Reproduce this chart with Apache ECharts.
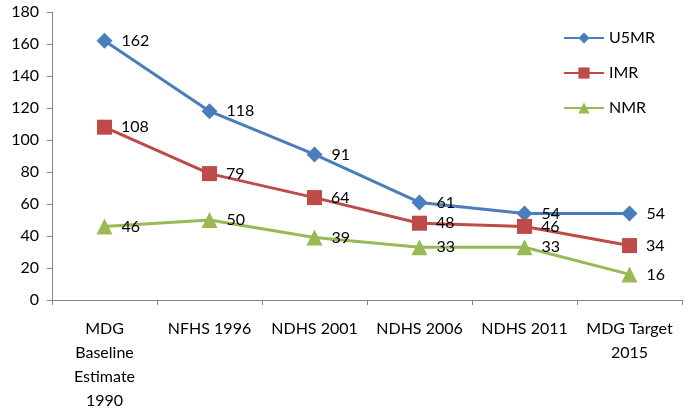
<!DOCTYPE html>
<html><head><meta charset="utf-8">
<script src="https://cdn.jsdelivr.net/npm/echarts@6/dist/echarts.min.js"></script>
<style>html,body{margin:0;padding:0;background:#fff}#c{width:690px;height:409px}</style>
</head><body><div id="c"></div>
<script>
const categories = ["MDG\nBaseline\nEstimate\n1990", "NFHS 1996", "NDHS 2001", "NDHS 2006", "NDHS 2011", "MDG Target\n2015"];
const u5mr = [162, 118, 91, 61, 54, 54];
const imr = [108, 79, 64, 48, 46, 34];
const nmr = [46, 50, 39, 33, 33, 16];
const yTicks = {min: 0, max: 180, interval: 20};

const font = "Lato, 'Open Sans', sans-serif";
function s(name, data, color, symbol, size) {
  return {
    name, type: 'line', data, symbol, symbolSize: size,
    lineStyle: {color, width: 3}, itemStyle: {color},
    label: {show: true, position: 'right', distance: 9, color: '#000', fontSize: 16, fontFamily: font},
    emphasis: {disabled: true}
  };
}
const chart = echarts.init(document.getElementById('c'));
chart.setOption({
  animation: false,
  grid: {left: 52, right: 8, top: 12, bottom: 109, containLabel: false, outerBoundsMode: 'none'},
  legend: {
    orient: 'vertical', left: 558, top: 25, itemGap: 19, itemWidth: 40, itemHeight: 14,
    textStyle: {fontSize: 16, fontFamily: font, color: '#000'},
    data: ['U5MR', 'IMR', 'NMR']
  },
  xAxis: {
    type: 'category', data: categories, boundaryGap: true,
    axisLine: {lineStyle: {color: '#868686'}},
    axisTick: {show: true, alignWithLabel: false, length: 5, lineStyle: {color: '#868686'}},
    axisLabel: {fontSize: 16, fontFamily: font, color: '#000', lineHeight: 24, margin: 17, interval: 0}
  },
  yAxis: {
    type: 'value', min: yTicks.min, max: yTicks.max, interval: yTicks.interval,
    splitLine: {show: false},
    axisLine: {show: true, lineStyle: {color: '#868686'}},
    axisTick: {show: true, length: 5, lineStyle: {color: '#868686'}},
    axisLabel: {fontSize: 16, fontFamily: font, color: '#000', margin: 13}
  },
  series: [
    s('U5MR', u5mr, '#4a7ebb', 'diamond', 16),
    s('IMR', imr, '#be4b48', 'rect', 15),
    s('NMR', nmr, '#98b954', 'triangle', 16)
  ]
});
</script></body></html>
